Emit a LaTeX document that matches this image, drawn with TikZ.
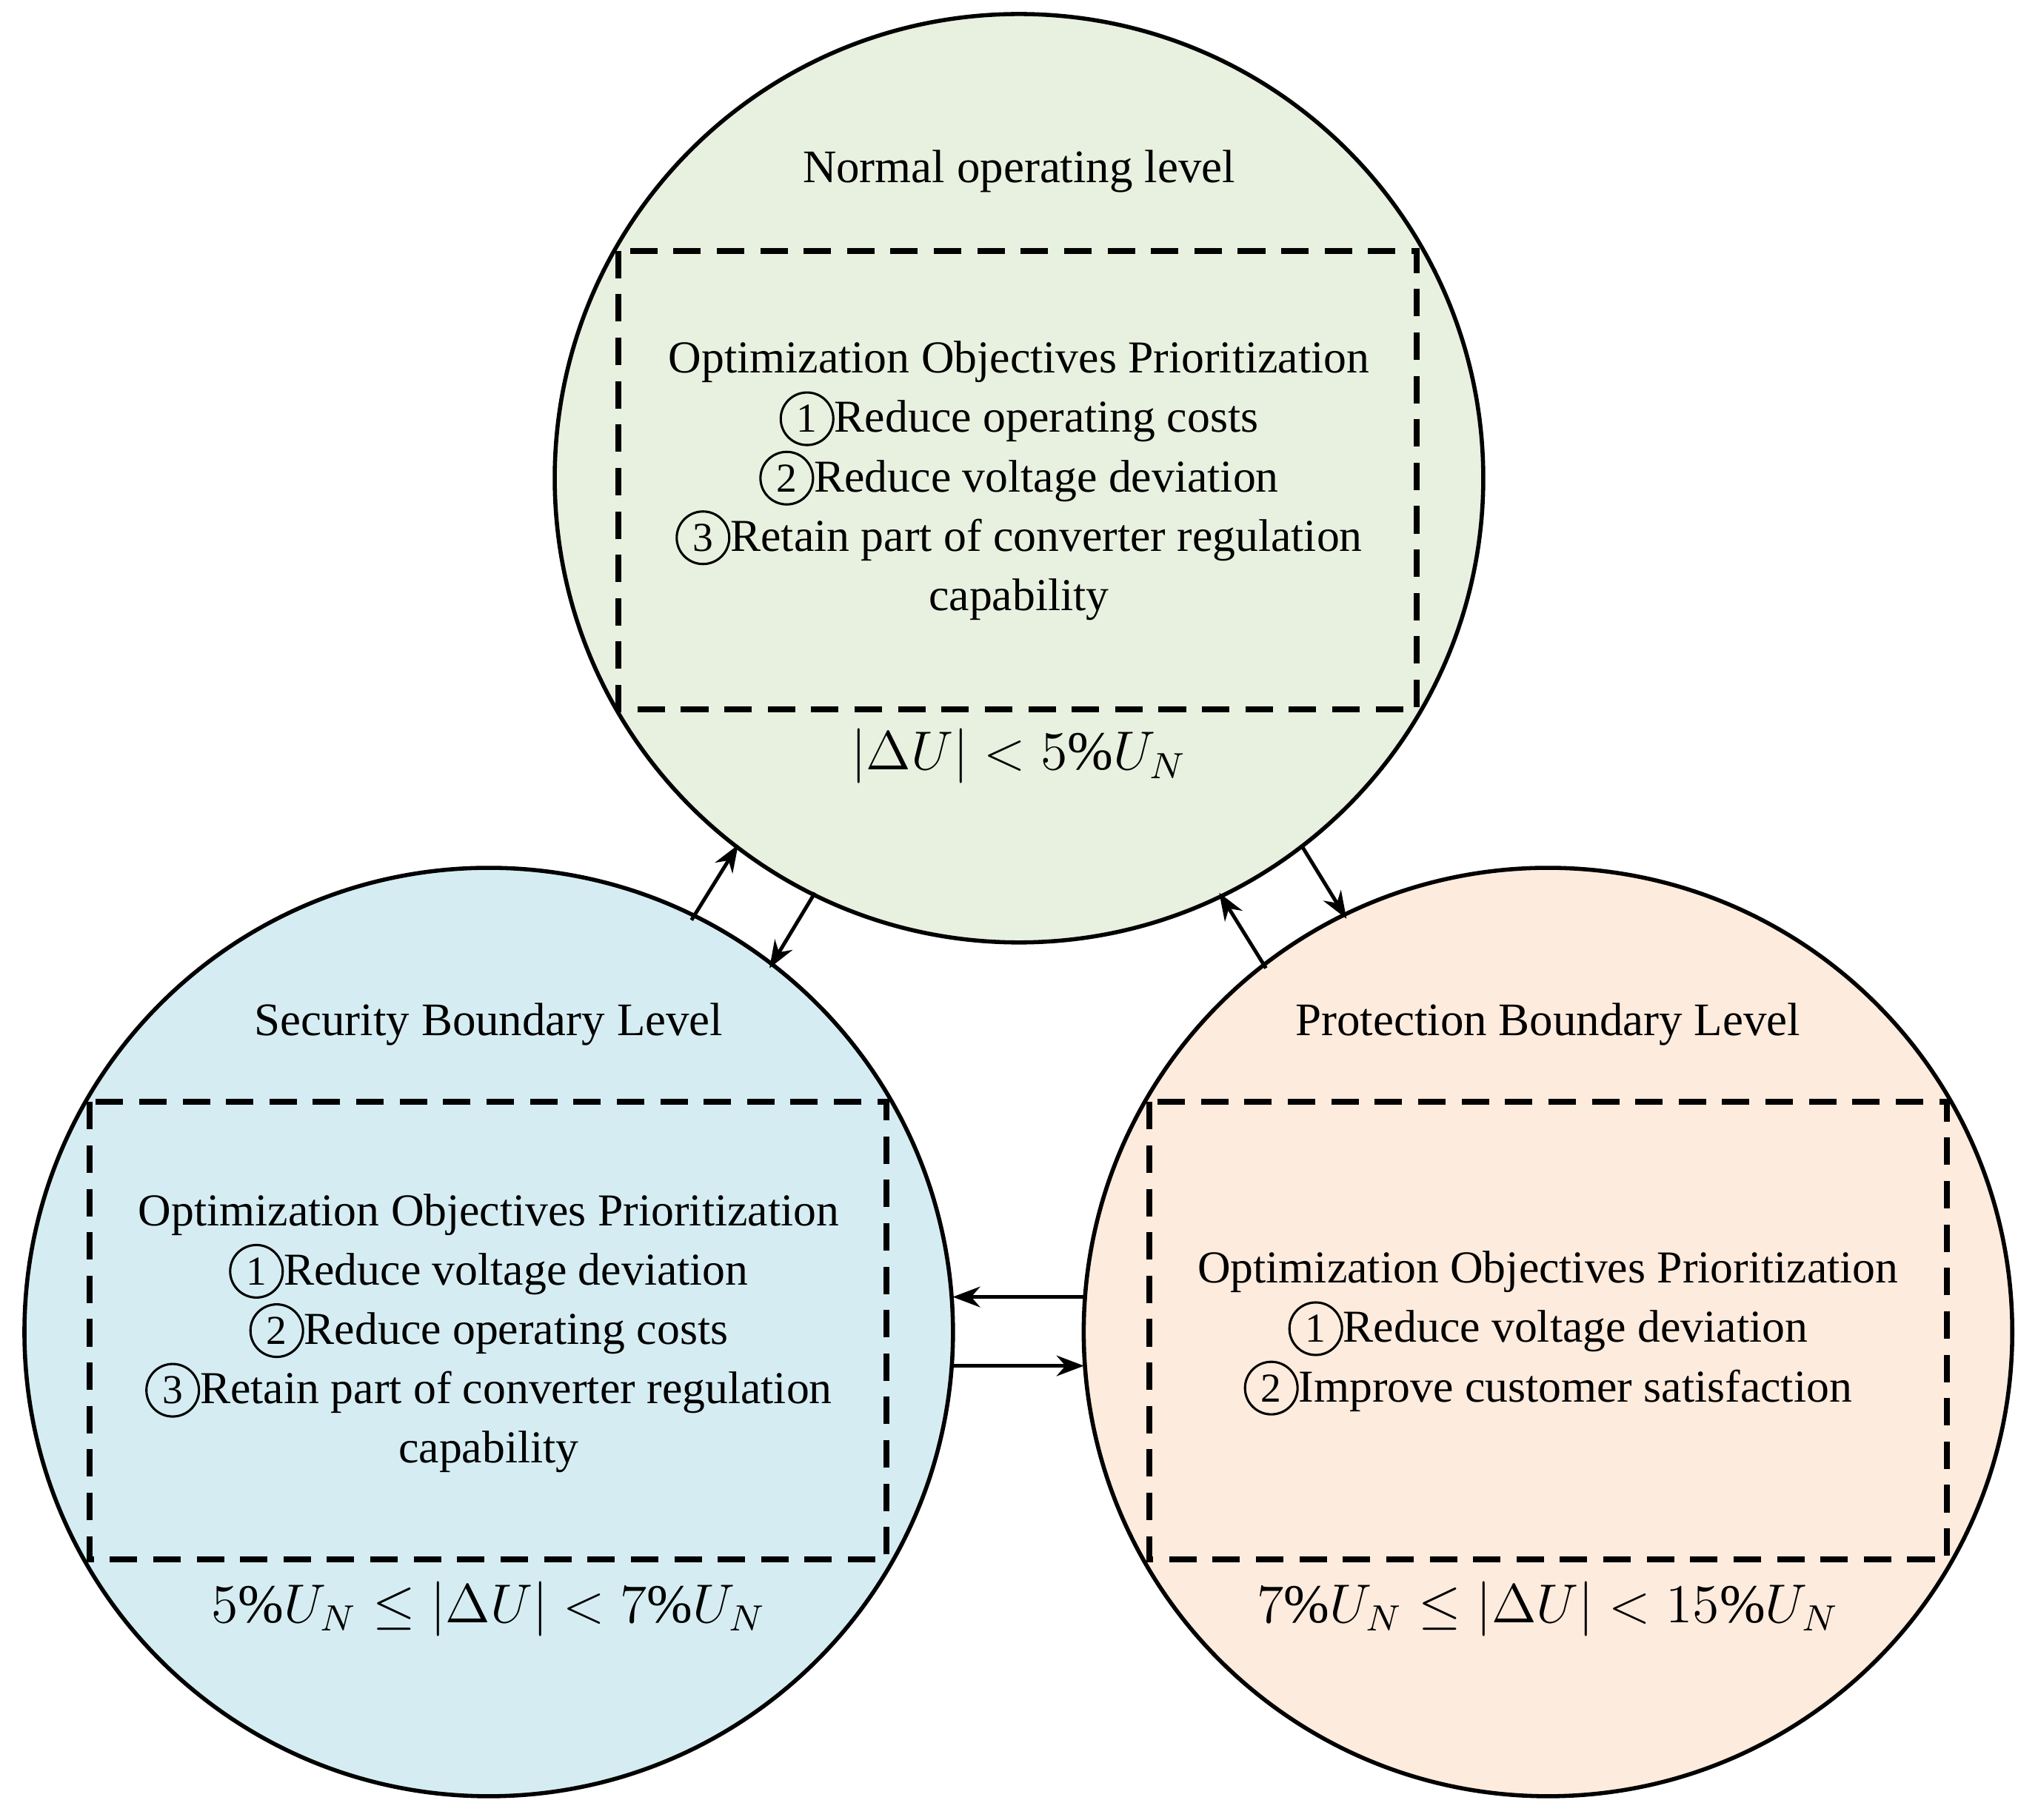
\documentclass[tikz,border=0pt]{standalone}
\usepackage{fontspec}
\setmainfont{Liberation Serif}
\usetikzlibrary{arrows.meta}
\newcommand\cnum[1]{\tikz[baseline=(cc.base)]\node[circle,draw,line width=0.5pt,inner sep=0.4pt,minimum size=11.5pt,font=\fontsize{9}{10}\selectfont](cc){#1};}
\begin{document}
\begin{tikzpicture}[x=0.01cm,y=-0.01cm,
  lvl/.style={circle,draw,line width=0.9pt,minimum size=7.14cm,inner sep=0pt},
  box/.style={draw,dashed,line width=1.3pt,dash pattern=on 6pt off 3.5pt},
  txt/.style={align=center,font=\fontsize{10}{13}\selectfont},
  ttl/.style={font=\fontsize{10.2}{12}\selectfont},
  mth/.style={font=\fontsize{12}{14}\selectfont},
  arr/.style={-{Stealth[length=6pt,width=4.5pt]},line width=0.8pt}]
\useasboundingbox (0,0) rectangle (1568,1400);
\definecolor{cg}{RGB}{232,240,223}
\definecolor{cb}{RGB}{213,237,242}
\definecolor{co}{RGB}{253,235,221}
\node[lvl,fill=cg] (top) at (784,368) {};
\node[lvl,fill=cb] (left) at (376,1025) {};
\node[lvl,fill=co] (right) at (1191,1025) {};
\draw[box] (476,193) rectangle (1090,546);
\draw[box] (69,848) rectangle (682,1200);
\draw[box] (884,848) rectangle (1498,1200);
\node[ttl] (t1) at (784,132) {Normal operating level};
\node[ttl] (t2) at (376,788) {Security Boundary Level};
\node[ttl] (t3) at (1191,788) {Protection Boundary Level};
\node[txt] (b1) at (784,370) {Optimization Objectives Prioritization\\\cnum{1}Reduce operating costs\\\cnum{2}Reduce voltage deviation\\\cnum{3}Retain part of converter regulation\\capability};
\node[txt] (b2) at (376,1026) {Optimization Objectives Prioritization\\\cnum{1}Reduce voltage deviation\\\cnum{2}Reduce operating costs\\\cnum{3}Retain part of converter regulation\\capability};
\node[txt] (b3) at (1191,1026) {Optimization Objectives Prioritization\\\cnum{1}Reduce voltage deviation\\\cnum{2}Improve customer satisfaction};
\node[mth] (m1) at (784,582) {$\left|\Delta U\right| < 5\%U_N$};
\node[mth] (m2) at (376,1238) {$5\%U_N \leq \left|\Delta U\right| < 7\%U_N$};
\node[mth] (m3) at (1191,1238) {$7\%U_N \leq \left|\Delta U\right| < 15\%U_N$};
\coordinate (a1) at (532,708); \coordinate (a2) at (568,650);
\coordinate (a3) at (627,687); \coordinate (a4) at (592,745);
\coordinate (a5) at (974,745); \coordinate (a6) at (938,687);
\coordinate (a7) at (1001,650); \coordinate (a8) at (1036,707);
\coordinate (h1) at (834,998); \coordinate (h2) at (733,998);
\coordinate (h3) at (733,1051); \coordinate (h4) at (834,1051);
\draw[arr] (a1) -- (a2); \draw[arr] (a3) -- (a4);
\draw[arr] (a5) -- (a6); \draw[arr] (a7) -- (a8);
\draw[arr] (h1) -- (h2); \draw[arr] (h3) -- (h4);
\end{tikzpicture}
\end{document}
